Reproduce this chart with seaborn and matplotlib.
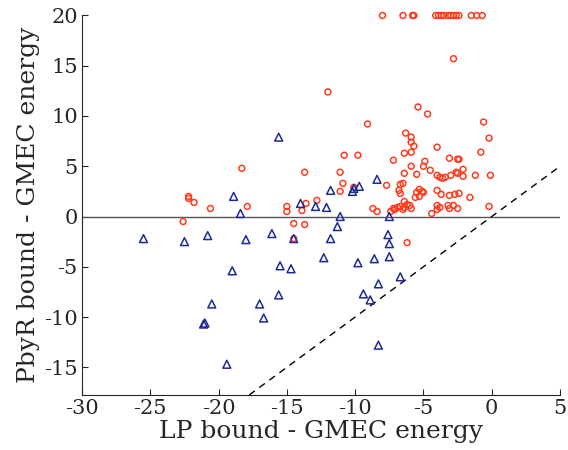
import matplotlib
matplotlib.use("Agg")
import matplotlib.pyplot as plt
import numpy as np
import pandas as pd
import seaborn as sns

# Instances where PbyR bound is reported (red circles); values above 20 are capped at 20
red_x = [-8.0, -6.5, -5.8, -5.7, -4.1, -3.9, -3.7, -3.5, -3.2, -3.0, -2.8, -2.6, -2.4, -1.5, -1.1, -0.7,
         -2.8, -12.0, -5.4, -4.7, -9.1, -0.6, -6.3, -5.9, -0.2, -5.9, -5.7, -4.0,
         -6.4, -5.9, -0.8, -10.8, -9.8, -7.2, -3.1, -2.5, -2.4, -4.9, -5.0, -5.9, -4.5,
         -18.3, -13.7, -11.1, -6.4, -5.5,
         -4.0, -3.8, -3.6, -3.4, -3.0, -2.6, -2.5, -2.1, -2.1, -1.2, -0.1,
         -10.9, -10.1, -11.1, -7.7, -6.7, -6.5, -6.8, -6.7,
         -5.5, -5.3, -5.1, -5.0, -5.3, -5.6, -4.0, -3.7, -3.1, -2.7, -2.4, -1.6,
         -6.4, -6.2, -6.4, -6.5, -6.0, -5.9, -6.7, -7.1, -7.4, -7.2, -6.9,
         -4.0, -3.8, -4.0, -3.2, -3.1, -2.8, -2.5, -4.4, -0.2, -8.7, -8.4,
         -22.2, -22.2, -21.8, -20.6, -17.9, -15.0, -15.0, -13.9, -13.6, -12.8,
         -22.6, -14.5, -13.7, -14.5, -6.2]
red_y = [20, 20, 20, 20, 20, 20, 20, 20, 20, 20, 20, 20, 20, 20, 20, 20,
         15.7, 12.4, 10.9, 10.2, 9.2, 9.4, 8.3, 7.9, 7.8, 7.4, 7.0, 6.9,
         6.3, 6.4, 6.4, 6.1, 6.1, 5.6, 5.8, 5.7, 5.7, 5.5, 5.0, 5.0, 4.6,
         4.8, 4.4, 4.4, 4.3, 4.2,
         4.1, 3.9, 3.8, 3.9, 4.1, 4.4, 4.3, 4.7, 4.0, 4.1, 4.1,
         3.3, 2.9, 2.5, 3.1, 3.2, 3.3, 2.6, 2.3,
         2.4, 2.7, 2.5, 2.4, 2.0, 1.9, 2.6, 2.2, 2.1, 2.2, 2.3, 1.9,
         1.5, 1.2, 0.9, 0.7, 1.1, 0.8, 1.0, 0.7, 0.5, 0.8, 0.9,
         1.1, 0.9, 0.7, 1.1, 0.8, 1.1, 0.8, 0.3, 1.0, 0.8, 0.5,
         2.0, 1.8, 1.4, 0.8, 1.0, 1.0, 0.5, 0.6, 1.3, 1.6,
         -0.5, -0.7, -0.8, -2.2, -2.6]

# Instances drawn as blue triangles
blue_x = [-15.6, -11.8, -18.9, -18.4, -14.0, -12.9, -12.1,
          -10.2, -10.1, -9.7, -8.4, -11.1, -7.5,
          -25.5, -22.5, -20.8, -18.0, -16.1, -14.5, -11.8, -12.3, -11.3,
          -19.0, -15.5, -14.7, -15.6, -20.5, -17.0, -16.7, -21.0, -21.1, -19.4,
          -7.6, -7.5, -7.5, -8.6, -9.8, -6.7, -8.3, -9.4, -8.9, -8.3]
blue_y = [7.9, 2.6, 2.0, 0.3, 1.3, 1.0, 0.9,
          2.5, 2.8, 3.0, 3.7, 0.0, 0.0,
          -2.2, -2.5, -1.9, -2.3, -1.7, -2.2, -2.2, -4.1, -1.0,
          -5.4, -4.9, -5.2, -7.8, -8.7, -8.7, -10.1, -10.6, -10.7, -14.7,
          -1.8, -2.7, -4.0, -4.2, -4.6, -6.0, -6.7, -7.7, -8.3, -12.8]

x_ticks = [-30, -25, -20, -15, -10, -5, 0, 5]
y_ticks = [-15, -10, -5, 0, 5, 10, 15, 20]

sns.set_style("ticks")
plt.rcParams["font.family"] = ["DejaVu Serif"]

fig = plt.figure(figsize=(5.68, 4.5), dpi=100)
ax = fig.add_axes([0.1444, 0.1222, 0.8416, 0.8445])

xmin, xmax = -30, 5
ymin, ymax = -17.76, 20.05

# reference lines: zero level and the diagonal y = x
ax.axhline(0, color="#555555", lw=1.0, zorder=1)
diag = np.array([ymin, xmax])
ax.plot(diag, diag, ls=(0, (5, 4)), color="black", lw=1.0, zorder=1)

red_df = pd.DataFrame({"lp": red_x, "pbyr": red_y})
blue_df = pd.DataFrame({"lp": blue_x, "pbyr": blue_y})

sns.scatterplot(data=red_df, x="lp", y="pbyr", ax=ax, marker="o", s=18,
                color="#ff3b1f", facecolor="none", edgecolor="#ff3b1f",
                linewidth=1.1, clip_on=False, zorder=3)
sns.scatterplot(data=blue_df, x="lp", y="pbyr", ax=ax, marker="^", s=32,
                color="#1c2a96", facecolor="none", edgecolor="#1c2a96",
                linewidth=1.1, clip_on=False, zorder=3)

ax.set_xlim(xmin, xmax)
ax.set_ylim(ymin, ymax)
ax.set_xticks(x_ticks)
ax.set_yticks(y_ticks)
ax.set_xticklabels([str(t) for t in x_ticks])
ax.set_yticklabels([str(t) for t in y_ticks])
ax.tick_params(direction="in", length=4, width=0.8, labelsize=15, pad=3)
sns.despine(ax=ax)
for sp in ("left", "bottom"):
    ax.spines[sp].set_linewidth(0.8)

ax.set_xlabel("LP bound - GMEC energy", fontsize=18, labelpad=1)
ax.set_ylabel("PbyR bound - GMEC energy", fontsize=18, labelpad=3)

fig.savefig("out.png", dpi=100)
